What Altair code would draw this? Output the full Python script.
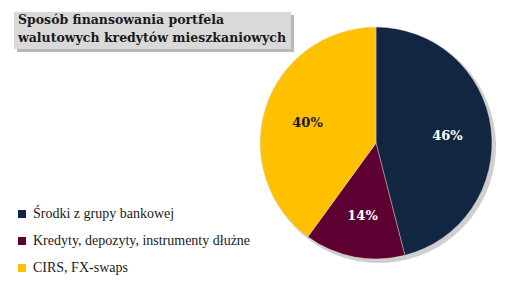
import altair as alt
import pandas as pd

categories = ["Środki z grupy bankowej", "Kredyty, depozyty, instrumenty dłużne", "CIRS, FX-swaps"]
values = [46, 14, 40]
labels = ["46%", "14%", "40%"]
colors = ["#132641", "#5d0031", "#ffc000"]
label_colors = ["white", "white", "#1a1a1a"]
title_lines = ["Sposób finansowania portfela", "walutowych kredytów mieszkaniowych"]

df = pd.DataFrame({"cat": categories, "val": values, "lab": labels, "lc": label_colors,
                   "order": [0, 1, 2]})

CX, CY, R = 376, 143, 116

base = alt.Chart(df).encode(
    theta=alt.Theta("val:Q", stack=True),
    order=alt.Order("order:Q"),
)

shadow = base.mark_arc(radius=R + 1, color="#cfcfcf").encode(
    x=alt.value(CX + 3), y=alt.value(CY + 3))

pie = base.mark_arc(radius=R, stroke="#e0e0e0", strokeWidth=0.4).encode(
    x=alt.value(CX), y=alt.value(CY),
    color=alt.Color("cat:N", sort=categories,
                    scale=alt.Scale(domain=categories, range=colors),
                    legend=alt.Legend(orient="none", legendX=15, legendY=207, title=None,
                                      symbolType="square", symbolSize=64,
                                      labelFont="Liberation Serif", labelFontSize=14,
                                      labelColor="#1a1a1a", rowPadding=13,
                                      labelLimit=0, labelOffset=4,
                                      symbolStrokeWidth=0)),
)

text = base.mark_text(radius=72, font="DejaVu Serif", fontWeight="bold", fontSize=13).encode(
    x=alt.value(CX), y=alt.value(CY + 2),
    text="lab:N",
    color=alt.Color("lc:N", scale=None),
)

tdf = pd.DataFrame({"t": [title_lines]})
box_shadow = alt.Chart(tdf).mark_rect(color="#9a9a9a", opacity=0.7).encode(
    x=alt.value(17), x2=alt.value(294), y=alt.value(15), y2=alt.value(52))
box = alt.Chart(tdf).mark_rect(color="#d9d9d9").encode(
    x=alt.value(14), x2=alt.value(291), y=alt.value(12), y2=alt.value(49))
ttext = alt.Chart(tdf).mark_text(align="left", baseline="top", font="DejaVu Serif",
                                 fontWeight="bold", fontSize=12.5, lineHeight=18,
                                 color="#1a1a1a").encode(
    x=alt.value(18), y=alt.value(14), text="t")

chart = alt.layer(shadow, pie, text, box_shadow, box, ttext).properties(
    width=511, height=286, autosize=alt.AutoSizeParams(type="none"), padding=0,
    background="white"
).configure_view(stroke=None)

chart.save("out.html", embed_options={"renderer": "svg", "actions": False})
